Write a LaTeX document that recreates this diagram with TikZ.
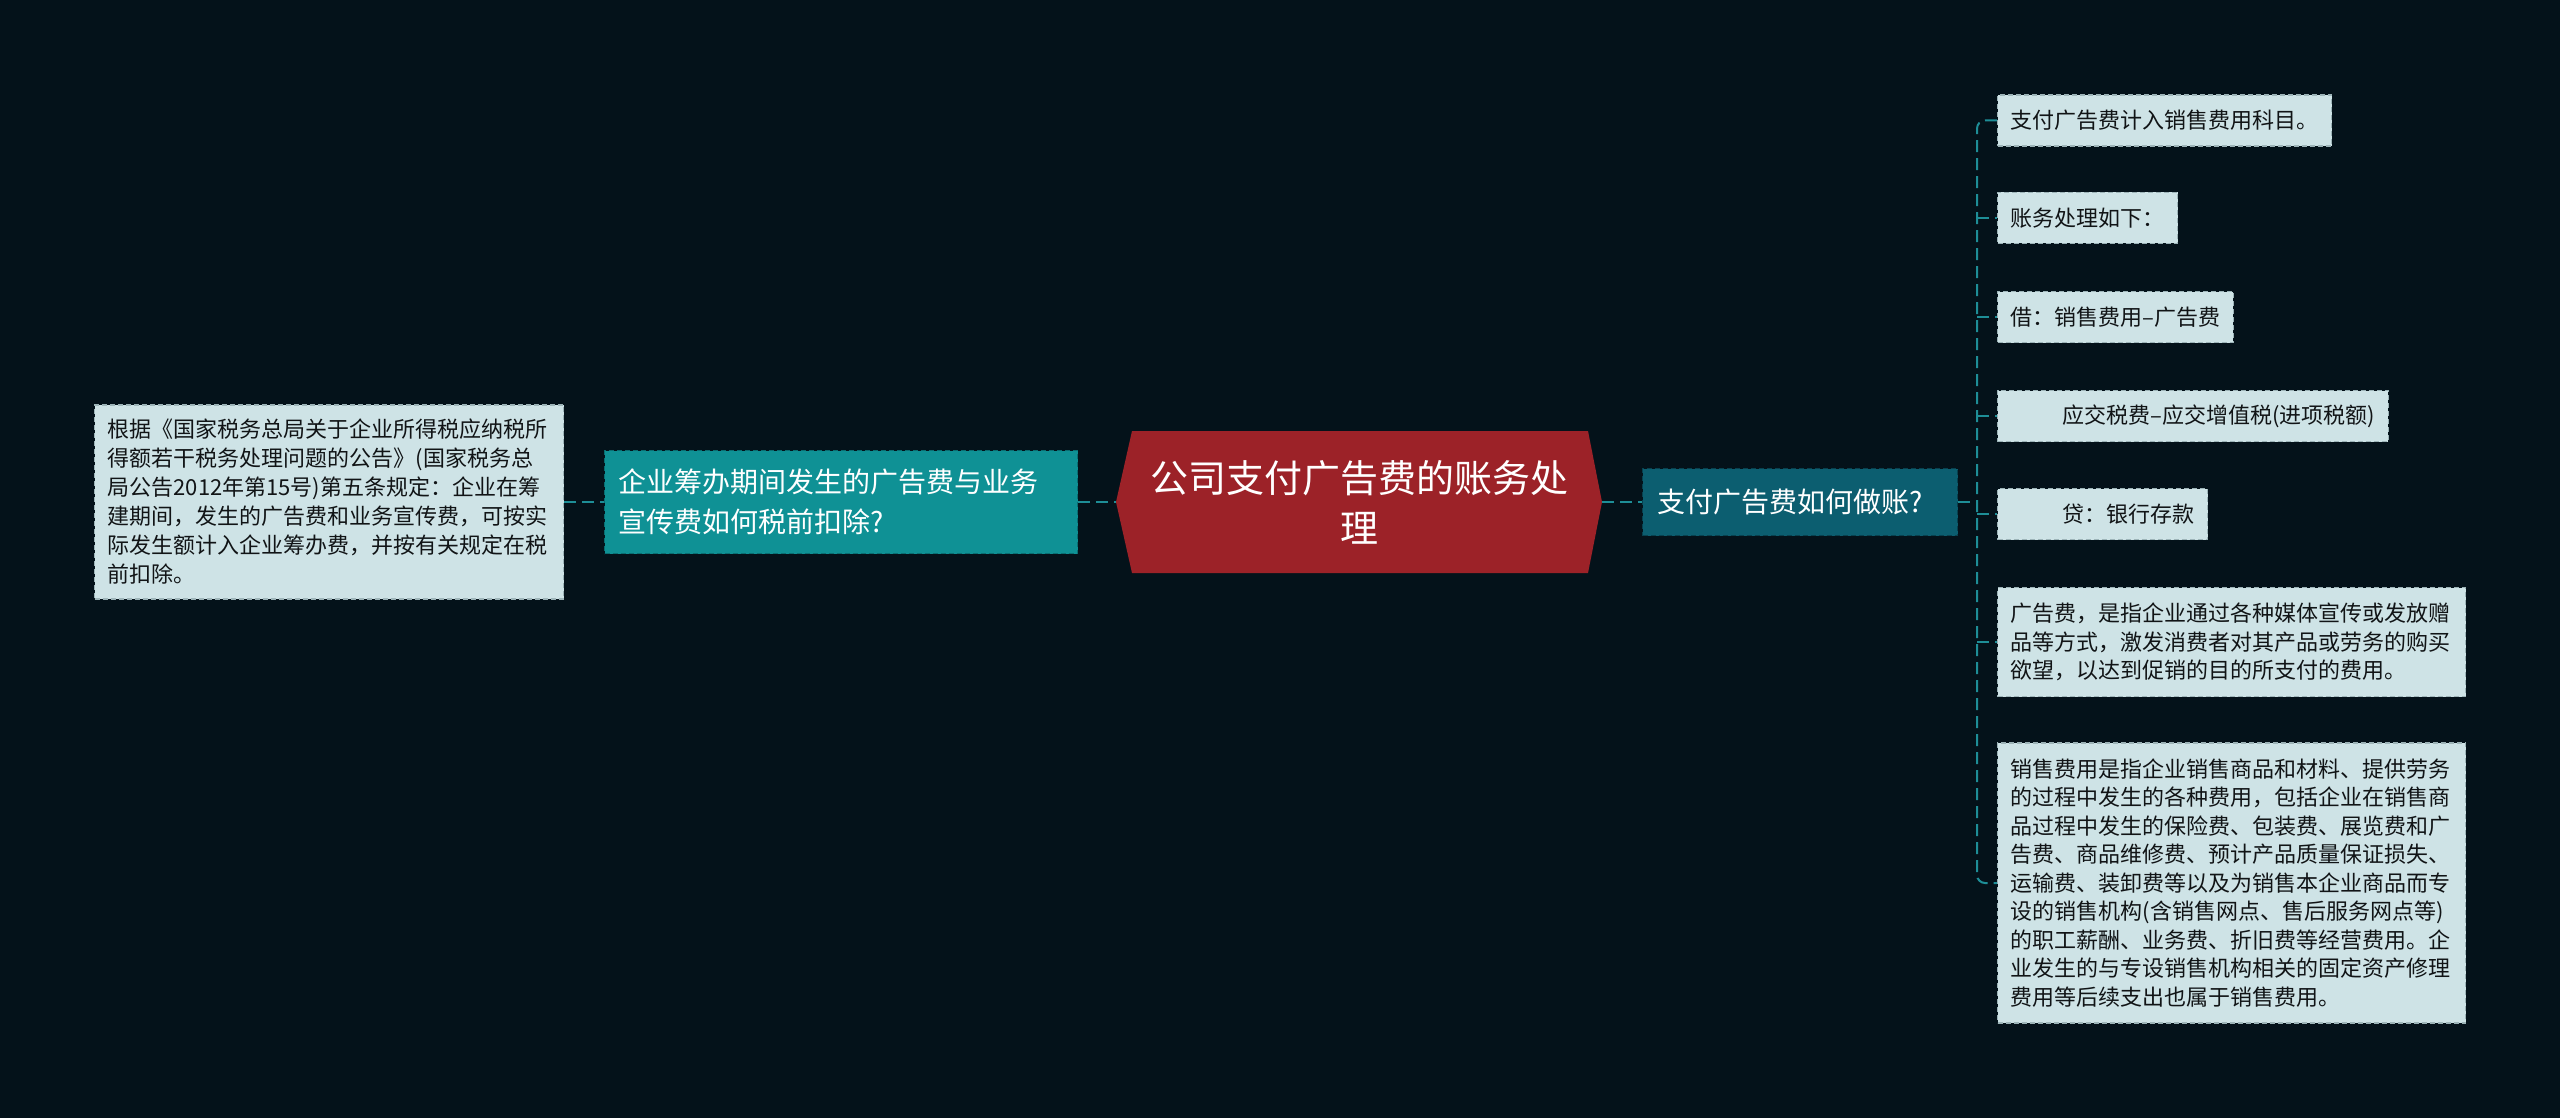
\documentclass[tikz,border=0pt]{standalone}
\usepackage{fontspec}
\setmainfont{Noto Sans CJK SC}
\definecolor{bgc}{HTML}{04121A}
\definecolor{redc}{HTML}{9C2228}
\definecolor{tealc}{HTML}{0F9195}
\definecolor{tealbd}{HTML}{0A6E72}
\definecolor{bluec}{HTML}{0C5E70}
\definecolor{bluebd}{HTML}{08414F}
\definecolor{lightc}{HTML}{CEE3E6}
\definecolor{lightbd}{HTML}{9DB4B8}
\definecolor{linec}{HTML}{1E8E97}
\definecolor{textdark}{HTML}{111416}
\begin{document}
\begin{tikzpicture}[x=1pt,y=-1pt,
  conn/.style={draw=linec, line width=2pt, dash pattern=on 12pt off 6pt},
  lightbox/.style={fill=lightc, draw=lightbd, line width=1.2pt, dash pattern=on 5pt off 3pt,
    text=textdark, font=\fontsize{22}{28.5}\selectfont, inner xsep=13pt, inner ysep=0pt,
    anchor=west, align=left, minimum height=51pt},
  tealbox/.style={fill=tealc, draw=tealbd, line width=1.2pt, dash pattern=on 5pt off 3pt,
    text=white, font=\fontsize{28}{40}\selectfont, inner xsep=14pt, inner ysep=0pt,
    anchor=west, align=left},
  bluebox/.style={fill=bluec, draw=bluebd, line width=1.2pt, dash pattern=on 5pt off 3pt,
    text=white, font=\fontsize{28}{40}\selectfont, inner xsep=15pt, inner ysep=0pt,
    anchor=west, align=left}]
\fill[bgc] (0,0) rectangle (2560,1118);
\useasboundingbox (0,0) rectangle (2560,1118);

% left detail box
\node[lightbox, font=\fontsize{22}{29}\selectfont, text width=443pt, minimum height=194pt] (lb) at (94,502)
{根据《国家税务总局关于企业所得税应纳税所\\得额若干税务处理问题的公告》(国家税务总\\局公告2012年第15号)第五条规定：企业在筹\\建期间，发生的广告费和业务宣传费，可按实\\际发生额计入企业筹办费，并按有关规定在税\\前扣除。};

% left question
\node[tealbox, text width=445pt, minimum height=103pt] (lq) at (604,502)
{企业筹办期间发生的广告费与业务\\宣传费如何税前扣除?};

% central node
\fill[redc] (1116,502) -- (1132,431) -- (1588,431) -- (1602,502) -- (1588,573) -- (1132,573) -- cycle;
\node[minimum width=486pt, minimum height=142pt, inner sep=0pt, align=center, text=white,
  font=\fontsize{38}{50}\selectfont] (root) at (1359,502) {公司支付广告费的账务处\\理};

% right question
\node[bluebox, text width=285pt, minimum height=67pt] (rq) at (1642,502) {支付广告费如何做账?};

% right children
\node[lightbox] (c1) at (1997,120.5) {支付广告费计入销售费用科目。};
\node[lightbox] (c2) at (1997,218) {账务处理如下：};
\node[lightbox] (c3) at (1997,317) {借：销售费用–广告费};
\node[lightbox] (c4) at (1997,416) {\hspace*{52pt}应交税费–应交增值税(进项税额)};
\node[lightbox] (c5) at (1997,514) {\hspace*{52pt}贷：银行存款};
\node[lightbox, text width=442pt, minimum height=109pt] (c6) at (1997,642)
{广告费，是指企业通过各种媒体宣传或发放赠\\品等方式，激发消费者对其产品或劳务的购买\\欲望，以达到促销的目的所支付的费用。};
\node[lightbox, text width=442pt, minimum height=280pt] (c7) at (1997,883)
{销售费用是指企业销售商品和材料、提供劳务\\的过程中发生的各种费用，包括企业在销售商\\品过程中发生的保险费、包装费、展览费和广\\告费、商品维修费、预计产品质量保证损失、\\运输费、装卸费等以及为销售本企业商品而专\\设的销售机构(含销售网点、售后服务网点等)\\的职工薪酬、业务费、折旧费等经营费用。企\\业发生的与专设销售机构相关的固定资产修理\\费用等后续支出也属于销售费用。};

% connectors
\coordinate (spine) at (1977,502);
\draw[conn] (lb.east) -- (lq.west);
\draw[conn] (lq.east) -- (root.west);
\draw[conn] (root.east) -- (rq.west);
\draw[conn] (rq.east) -- (spine);
\draw[conn, rounded corners=8pt] (c1.west) -- (c1.west -| spine) -- (c7.west -| spine) -- (c7.west);
\foreach \c in {c2,c3,c4,c5,c6} \draw[conn] (\c.west -| spine) -- (\c.west);
\end{tikzpicture}
\end{document}
